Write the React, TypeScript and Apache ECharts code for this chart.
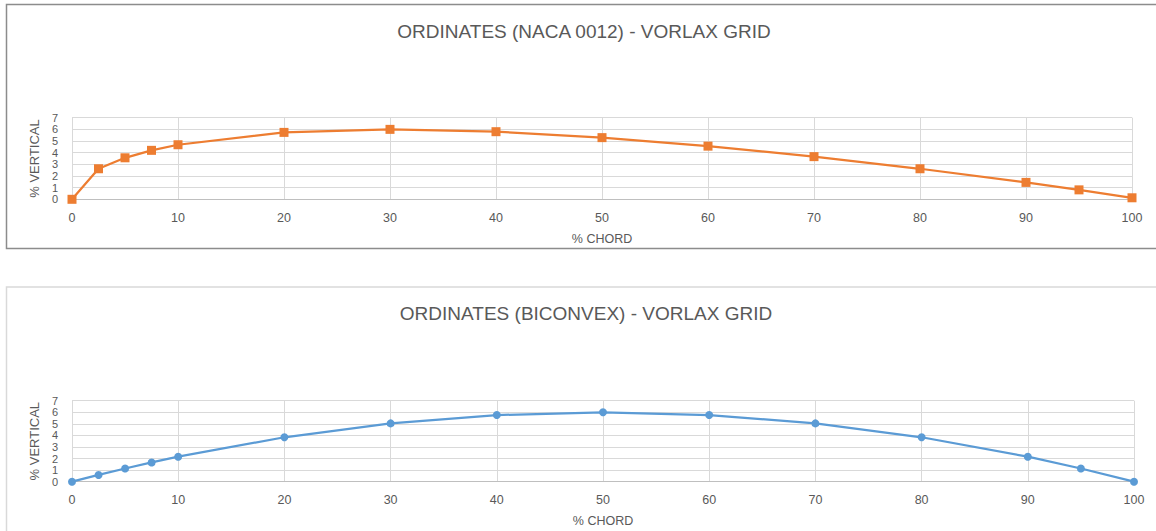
import React, { useEffect, useRef } from "react";
import * as echarts from "echarts";

// Station positions along the chord (%)
const chordStations = [0, 2.5, 5, 7.5, 10, 20, 30, 40, 50, 60, 70, 80, 90, 95, 100];
// Half-thickness ordinates (% chord)
const nacaOrdinates = [0, 2.62, 3.56, 4.2, 4.68, 5.74, 6.0, 5.8, 5.29, 4.56, 3.66, 2.62, 1.45, 0.81, 0.13];
const biconvexOrdinates = [0, 0.585, 1.14, 1.665, 2.16, 3.84, 5.04, 5.76, 6.0, 5.76, 5.04, 3.84, 2.16, 1.14, 0];

const titles = ["ORDINATES (NACA 0012) - VORLAX GRID", "ORDINATES (BICONVEX) - VORLAX GRID"];
const xName = "% CHORD";
const yName = "% VERTICAL";

const TEXT = "#595959";
const GRID = "#d9d9d9";
const FONT = "Liberation Sans, Arial, sans-serif";

function pairs(ys: number[]) {
  return chordStations.map((x, i) => [x, ys[i]]);
}

function xAxis(gridIndex: number) {
  return {
    type: "value",
    gridIndex,
    min: 0,
    max: 100,
    interval: 10,
    name: xName,
    nameLocation: "middle",
    nameGap: 33,
    nameTextStyle: { color: TEXT, fontSize: 12.5, fontFamily: FONT },
    axisLine: { show: true, lineStyle: { color: "#bfbfbf", width: 1 } },
    axisTick: { show: false },
    axisLabel: { color: TEXT, fontSize: 12.5, fontFamily: FONT, margin: 12 },
    splitLine: { show: true, lineStyle: { color: GRID, width: 1 } },
  };
}

function yAxis(gridIndex: number) {
  return {
    type: "value",
    gridIndex,
    min: 0,
    max: 7,
    interval: 1,
    name: yName,
    nameLocation: "middle",
    nameRotate: 90,
    nameGap: 22,
    nameTextStyle: { color: TEXT, fontSize: 13, fontFamily: FONT },
    axisLine: { show: false },
    axisTick: { show: false },
    axisLabel: {
      color: TEXT,
      fontSize: 11,
      lineHeight: 11,
      fontFamily: FONT,
      margin: 14,
      interval: 0,
      showMinLabel: true,
      showMaxLabel: true,
      hideOverlap: false,
    },
    splitLine: { show: true, lineStyle: { color: GRID, width: 1 } },
  };
}

function titleText(text: string, x: number, y: number) {
  return {
    type: "text",
    x,
    y,
    silent: true,
    style: {
      text,
      fill: TEXT,
      font: `19px ${FONT}`,
      textAlign: "center",
      textVerticalAlign: "middle",
    },
  };
}

export default function App() {
  const ref = useRef<HTMLDivElement>(null);

  useEffect(() => {
    document.body.style.margin = "0";
    const chart = echarts.init(ref.current!, undefined, { renderer: "svg" });
    chart.setOption({
      animation: false,
      backgroundColor: "#ffffff",
      graphic: [
        {
          type: "rect",
          shape: { x: 6.5, y: 4.5, width: 1160, height: 244 },
          style: { fill: "none", stroke: "#8c8c8c", lineWidth: 1.5 },
          silent: true,
        },
        {
          type: "rect",
          shape: { x: 6.5, y: 287, width: 1160, height: 260 },
          style: { fill: "none", stroke: "#d9d9d9", lineWidth: 1.5 },
          silent: true,
        },
        titleText(titles[0], 584, 31),
        titleText(titles[1], 586, 313),
      ],
      grid: [
        { left: 72, right: 24, top: 117.7, height: 81.6 },
        { left: 72, right: 22, top: 400.7, height: 81 },
      ],
      xAxis: [xAxis(0), xAxis(1)],
      yAxis: [yAxis(0), yAxis(1)],
      series: [
        {
          type: "line",
          xAxisIndex: 0,
          yAxisIndex: 0,
          data: pairs(nacaOrdinates),
          symbol: "rect",
          symbolSize: 9,
          lineStyle: { color: "#ED7D31", width: 2.25 },
          itemStyle: { color: "#ED7D31" },
        },
        {
          type: "line",
          xAxisIndex: 1,
          yAxisIndex: 1,
          data: pairs(biconvexOrdinates),
          symbol: "circle",
          symbolSize: 8,
          lineStyle: { color: "#5B9BD5", width: 2.25 },
          itemStyle: { color: "#5B9BD5" },
        },
      ],
    });
    return () => chart.dispose();
  }, []);

  return <div ref={ref} style={{ width: 1156, height: 531 }} />;
}
